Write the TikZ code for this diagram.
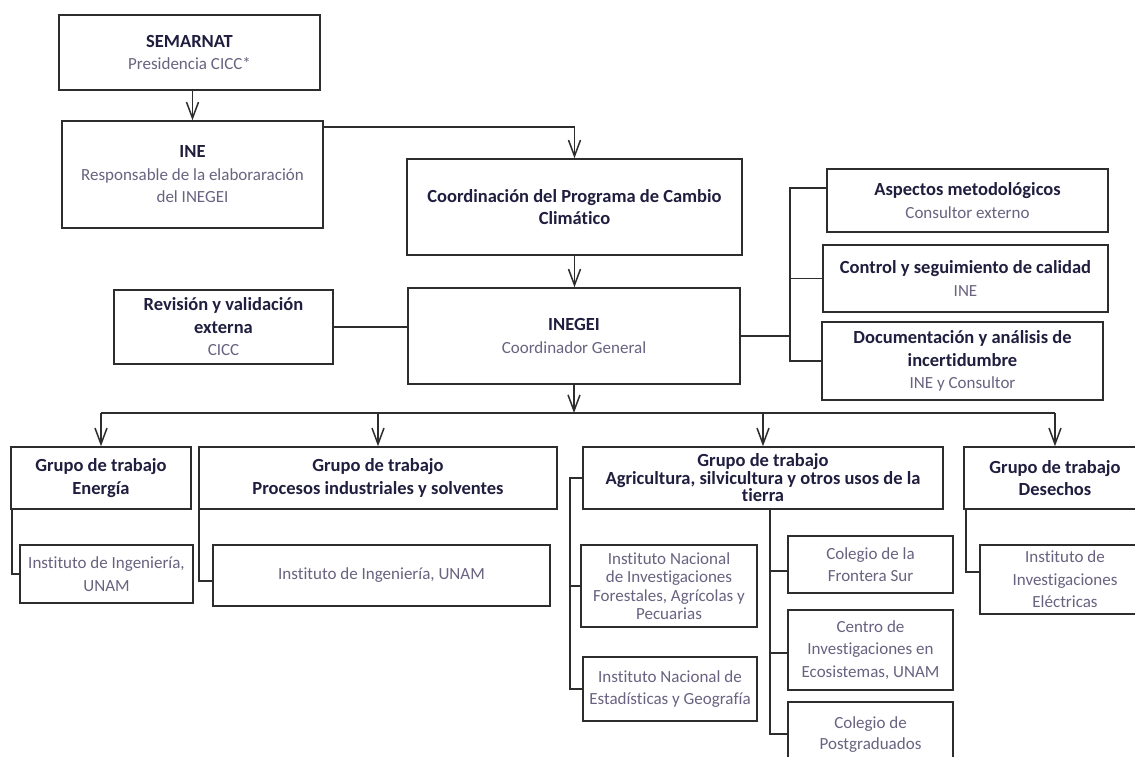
\documentclass[tikz,border=0pt]{standalone}
\usepackage{fontspec}
\setmainfont{Carlito}[Ligatures=NoCommon]
\usetikzlibrary{arrows.meta}
\definecolor{ttl}{RGB}{32,30,62}
\definecolor{subc}{RGB}{105,98,128}
\definecolor{ln}{RGB}{45,45,45}
\newcommand\subt[1]{{\mdseries\fontsize{17}{22.5}\selectfont\color{subc}#1}}
\begin{document}
\begin{tikzpicture}[x=1pt,y=-1pt,
  box/.style={draw=ln, line width=1.6pt, fill=white, align=center, inner sep=2pt,
    font=\fontsize{18.5}{22.5}\selectfont\bfseries, text=ttl},
  lbox/.style={box, font=\fontsize{17}{22.5}\selectfont, text=subc},
  con/.style={draw=ln, line width=1.6pt},
  arr/.style={con, -{Straight Barb[length=16pt,width=12pt,line width=1.5pt]}}]
\useasboundingbox[fill=white] (0,0) rectangle (1135,756);
% top
\node[box, minimum width=261pt, minimum height=75pt] (sem) at (189.5,52.5) {SEMARNAT\\ \subt{Presidencia CICC*}};
\node[box, minimum width=261pt, minimum height=107pt] (ine) at (192.5,174.5) {INE\\ \subt{Responsable de la elaboraración}\\ \subt{del INEGEI}};
\node[box, minimum width=335pt, minimum height=96pt] (coord) at (574.5,207) {Coordinación del Programa de Cambio\\ Climático};
\node[box, minimum width=332pt, minimum height=96pt] (inegei) at (574,336) {INEGEI\\ \subt{Coordinador General}};
\node[box, minimum width=219pt, minimum height=74pt] (rev) at (223.5,327) {Revisión y validación\\ externa\\ \subt{CICC}};
\node[box, minimum width=281pt, minimum height=63pt] (asp) at (967.5,200.5) {Aspectos metodológicos\\ \subt{Consultor externo}};
\node[box, minimum width=285pt, minimum height=67pt] (ctl) at (965.5,278.5) {Control y seguimiento de calidad\\ \subt{INE}};
\node[box, minimum width=281pt, minimum height=78pt] (doc) at (962.5,361) {Documentación y análisis de\\ incertidumbre\\ \subt{INE y Consultor}};
% groups
\node[box, minimum width=180pt, minimum height=62pt] (ene) at (101,478) {Grupo de trabajo\\ Energía};
\node[box, minimum width=358pt, minimum height=62pt] (pro) at (378,478) {Grupo de trabajo\\ Procesos industriales y solventes};
\node[box, minimum width=360pt, minimum height=62pt, font=\fontsize{18.5}{17.5}\selectfont\bfseries] (agr) at (763,478) {Grupo de trabajo\\ Agricultura, silvicultura y otros usos de la\\ tierra};
\node[box, minimum width=182pt, minimum height=62pt] (des) at (1055,478) {Grupo de trabajo\\ Desechos};
% institutes
\node[lbox, minimum width=173pt, minimum height=58pt] (ie) at (106.5,574) {Instituto de Ingeniería,\\ UNAM};
\node[lbox, minimum width=337pt, minimum height=61pt] (ip) at (381.5,575.5) {Instituto de Ingeniería, UNAM};
\node[lbox, minimum width=176pt, minimum height=82pt, font=\fontsize{17}{18.5}\selectfont] (inifap) at (669,586) {Instituto Nacional\\ de Investigaciones\\ Forestales, Agrícolas y\\ Pecuarias};
\node[lbox, minimum width=174pt, minimum height=64pt] (inegi) at (670,689) {Instituto Nacional de\\ Estadísticas y Geografía};
\node[lbox, minimum width=165pt, minimum height=57pt] (fro) at (870.5,564.5) {Colegio de la\\ Frontera Sur};
\node[lbox, minimum width=165pt, minimum height=80pt] (cen) at (870.5,650) {Centro de\\ Investigaciones en\\ Ecosistemas, UNAM};
\node[lbox, minimum width=165pt, minimum height=66pt, font=\fontsize{17}{21}\selectfont] (pg) at (870.5,735) {Colegio de\\ Postgraduados};
\node[lbox, minimum width=170pt, minimum height=69pt] (ele) at (1065,579.5) {Instituto de\\ Investigaciones\\ Eléctricas};
% connectors top
\draw[arr] (sem.south -| ine.north) -- (ine.north);
\draw[arr] ([yshift=-7pt]ine.north east) -| (coord.north);
\draw[arr] (coord.south) -- (coord.south |- inegei.north);
\draw[con] (rev.east) -- (inegei.west |- rev.east);
\coordinate (r1) at (790,188);
\coordinate (r3) at (790,361);
\draw[con] (asp.west |- r1) -- (r1) -- (r3) -- (doc.west |- r3);
\draw[con] (r1 |- ctl.west) -- (ctl.west);
\draw[con] (inegei.east) -- (inegei.east -| r1);
% distribution bar
\coordinate (bar) at (574,413);
\draw[arr] (inegei.south) -- (inegei.south |- bar);
\draw[con] (ene.north |- bar) -- (des.north |- bar);
\foreach \g in {ene,pro,agr,des}{\draw[arr] (\g.north |- bar) -- (\g.north);}
% sub connectors
\draw[con] ([xshift=2pt]ene.south west) |- (ie.west);
\draw[con] ([xshift=1pt]pro.south west) |- ([yshift=-5.5pt]ip.west);
\coordinate (al1) at (570,478);
\coordinate (al2) at (570,689);
\draw[con] (agr.west) -- (al1) -- (al2) -- (inegi.west);
\draw[con] (al1 |- inifap.west) -- (inifap.west);
\coordinate (ar) at (770,509);
\coordinate (ar2) at (770,734);
\draw[con] (ar) -- (ar2) -- (pg.west |- ar2);
\draw[con] (ar |- fro.west) ++(0,6.5) -- ([yshift=-6.5pt]fro.west);
\draw[con] (ar |- cen.west) ++(0,3) -- ([yshift=-3pt]cen.west);
\draw[con] ([xshift=3pt]des.south west) |- ([yshift=7.5pt]ele.west);
\end{tikzpicture}
\end{document}
